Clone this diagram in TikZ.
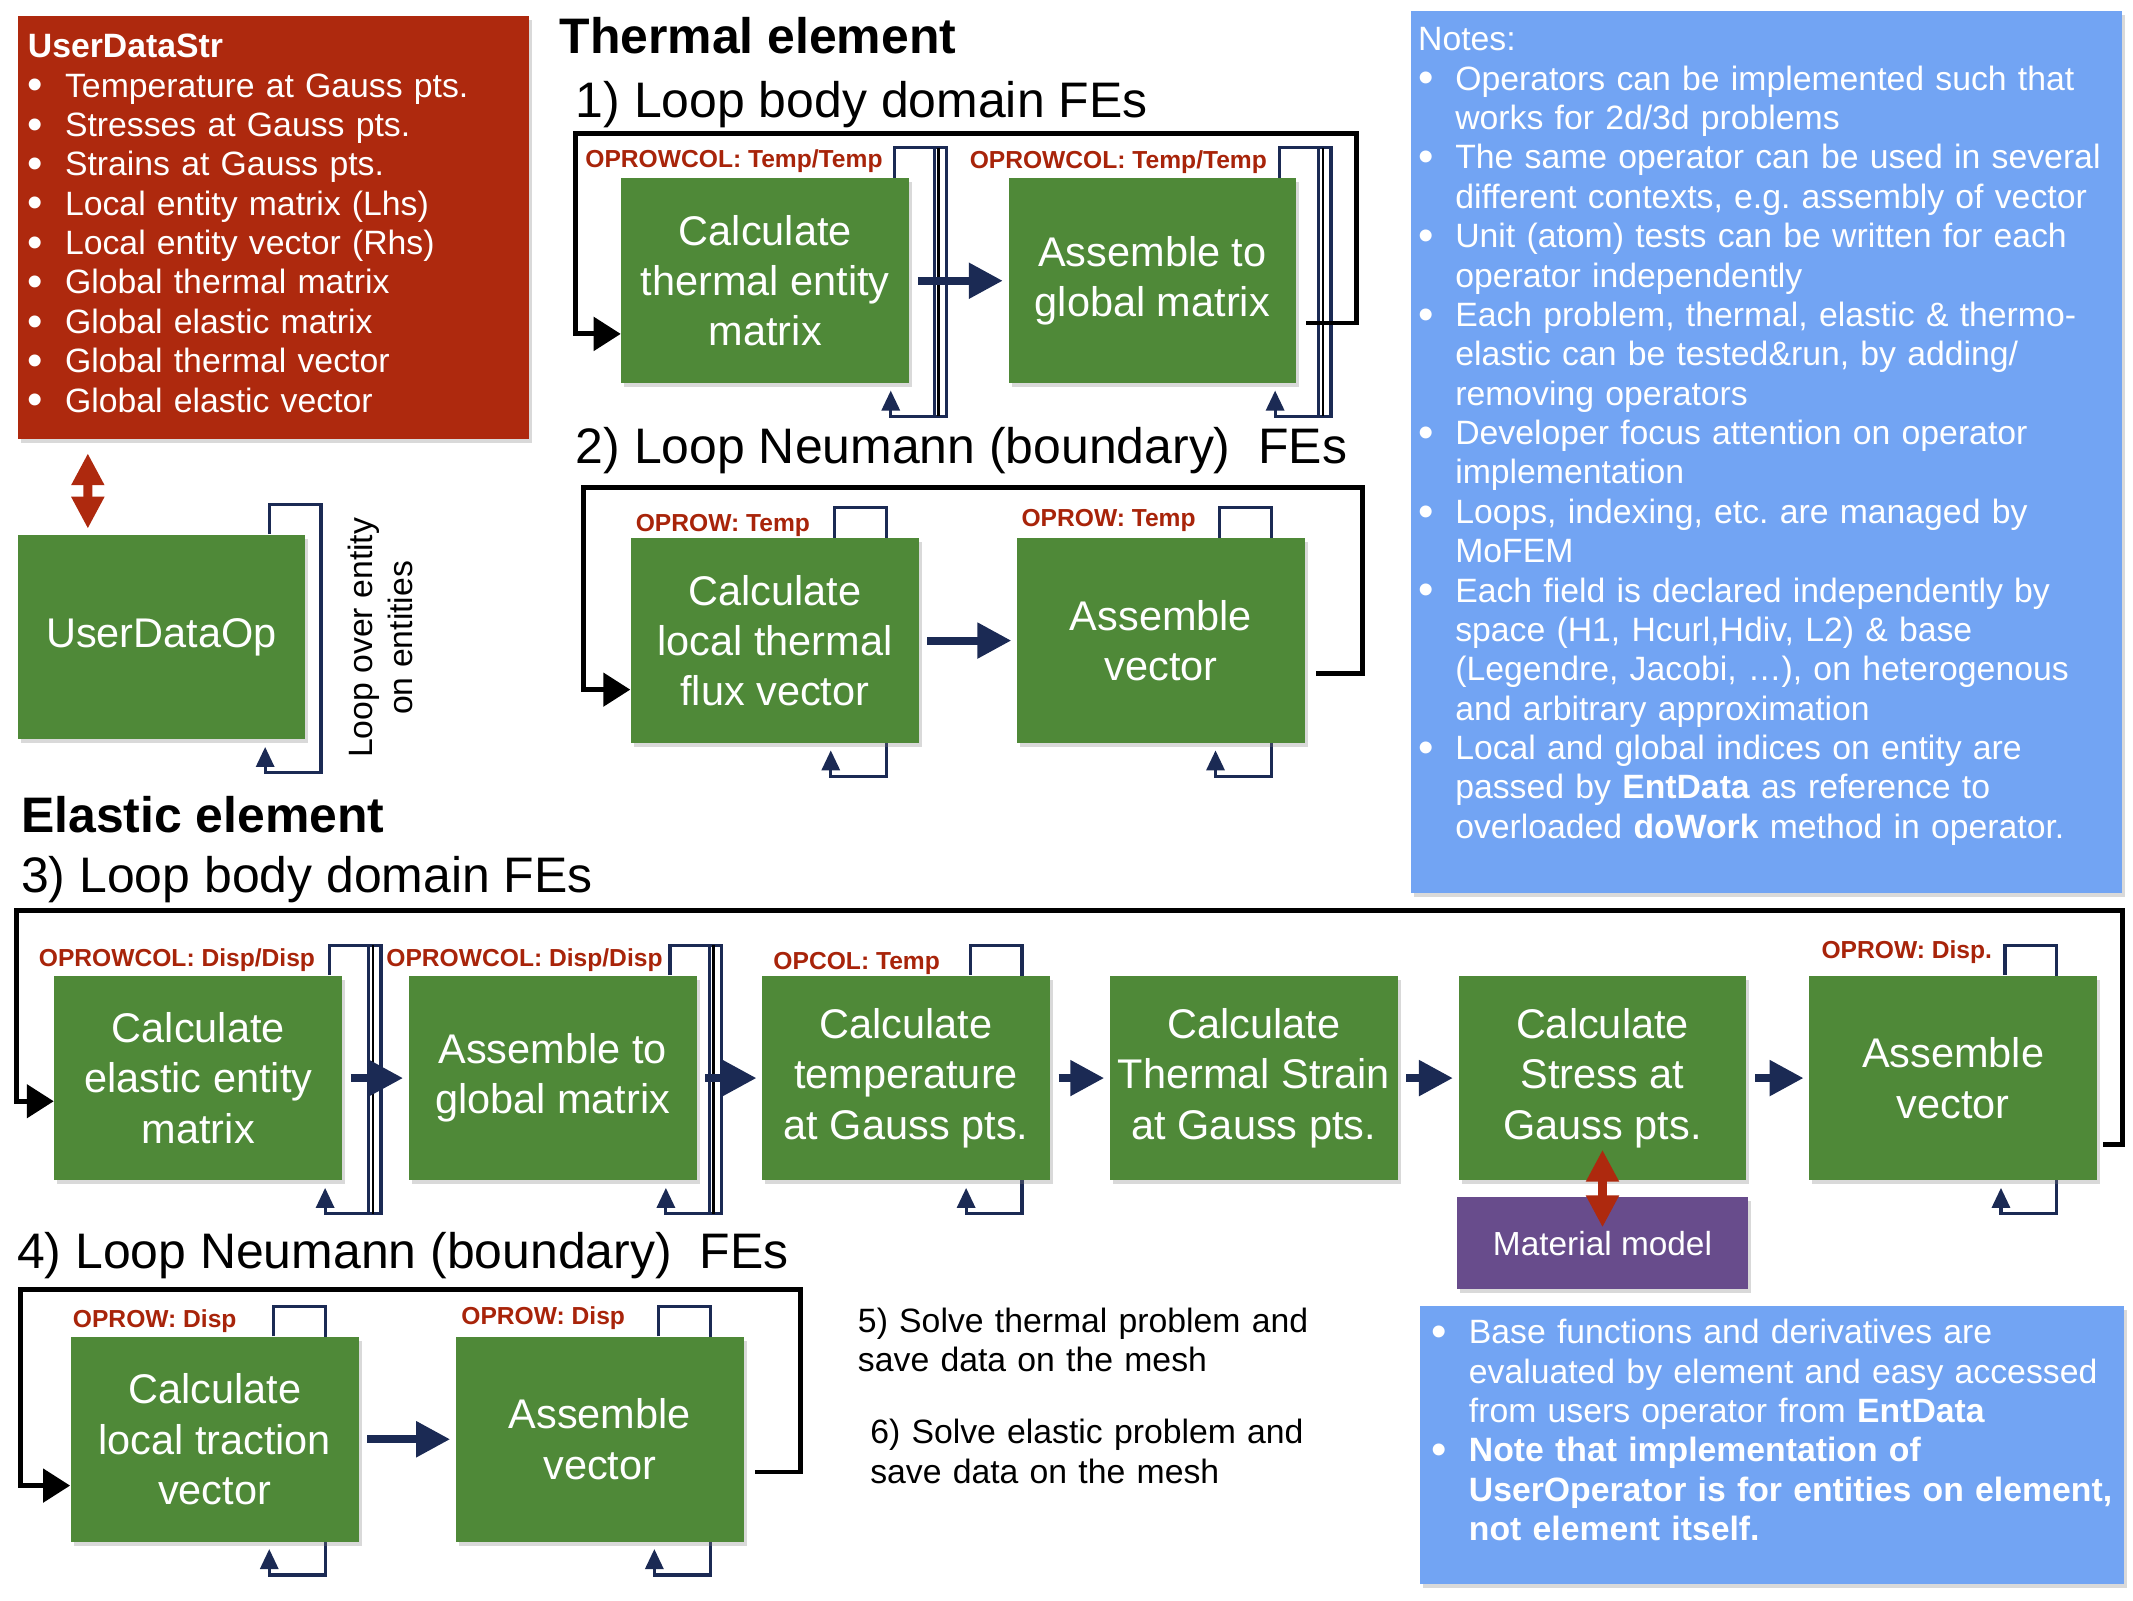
\documentclass[tikz,border=0pt]{standalone}
\usepackage{fontspec}
\setmainfont{Liberation Sans}
\usepackage{xcolor}
\usepackage{tikz}
\usetikzlibrary{shapes,arrows.meta,positioning,shadows,backgrounds}
\definecolor{opgreen}{RGB}{79,137,56}
\definecolor{datared}{RGB}{174,41,14}
\definecolor{labelred}{RGB}{168,36,10}
\definecolor{navy}{RGB}{27,42,84}
\definecolor{notesblue}{RGB}{114,164,243}
\definecolor{matpurple}{RGB}{104,76,140}
\frenchspacing

\newcommand{\bulletline}{\par\hangindent=1.1em\hangafter=1\noindent\makebox[1.1em][l]{\raisebox{-0.08em}{\fontsize{12.5}{12.5}\selectfont\textbullet}}\strut}
\newcommand{\oploop}[2]{\draw[selfloop] ([shift={(#2,0)}]#1.north east) -- ++(0,-22) -- ++(38,0) |- ([shift={(#2-3,24)}]#1.south east) -- ([shift={(#2-3,5)}]#1.south east);}
\newcommand{\oploopdouble}[2]{\oploop{#1}{#2}
  \draw[navy, line width=0.9pt] ([shift={(#2+29,-22)}]#1.north east) -- ([shift={(#2+29,24)}]#1.south east);
  \draw[black, line width=0.7pt] ([shift={(#2+32,-22)}]#1.north east) -- ([shift={(#2+32,24)}]#1.south east);}

\begin{document}
\begin{tikzpicture}[
      x=0.01363cm, y=-0.01363cm,
      shade/.style={drop shadow={shadow xshift=0.03cm, shadow yshift=-0.04cm, opacity=0.3, fill=black!50}},
      opbox/.style={shade, fill=opgreen, minimum width=2.876cm, minimum height=2.045cm, inner xsep=1pt, align=center, text=white, font=\fontsize{11.8}{14.3}\selectfont},
      oplabel/.style={font=\fontsize{7}{8}\selectfont\bfseries, text=labelred, inner sep=0, anchor=base west},
      heading/.style={font=\fontsize{14.2}{17}\selectfont\bfseries, inner sep=0, anchor=base west},
      loophead/.style={font=\fontsize{14.2}{17}\selectfont, inner sep=0, anchor=base west},
      listtext/.style={text width=7.5cm, align=left, inner sep=0, anchor=north west, font=\fontsize{9.6}{11.2}\selectfont},
      flow/.style={-{Triangle[length=0.34cm,width=0.34cm]}, line width=2.3pt, draw=navy, shorten <=0.08cm, shorten >=0.05cm},
      loopline/.style={-{Triangle[length=0.27cm,width=0.33cm]}, line width=1.4pt},
      selfloop/.style={-{Triangle[length=0.2cm,width=0.18cm]}, line width=0.9pt, draw=navy},
      dataarrow/.style={{Triangle[length=0.32cm,width=0.31cm]}-{Triangle[length=0.32cm,width=0.31cm]}, line width=2.6pt, draw=datared}
    ]
    \useasboundingbox (0,0) rectangle (1565,1174);

    % data and notes panels
    \node[shade, fill=datared, minimum width=5.111cm, minimum height=4.225cm] (userstr) at (200.5,167) {};
    \node[listtext, text=white] (userstrtext) at (20,21.6) {\strut\textbf{UserDataStr}
      \bulletline Temperature at Gauss pts.
      \bulletline Stresses at Gauss pts.
      \bulletline Strains at Gauss pts.
      \bulletline Local entity matrix (Lhs)
      \bulletline Local entity vector (Rhs)
      \bulletline Global thermal matrix
      \bulletline Global elastic matrix
      \bulletline Global thermal vector
      \bulletline Global elastic vector\par};

    \node[shade, fill=notesblue, minimum width=7.115cm, minimum height=8.819cm] (notes) at (1296,331.5) {};
    \node[listtext, text=white] (notestext) at (1040,16.6) {\strut Notes:
      \bulletline Operators can be implemented such that\newline works for 2d/3d problems
      \bulletline The same operator can be used in several\newline different contexts, e.g. assembly of vector
      \bulletline Unit (atom) tests can be written for each\newline operator independently
      \bulletline Each problem, thermal, elastic \& thermo-\newline elastic can be tested\&run, by adding/\newline removing operators
      \bulletline Developer focus attention on operator\newline implementation
      \bulletline Loops, indexing, etc. are managed by\newline MoFEM
      \bulletline Each field is declared independently by\newline space (H1, Hcurl,Hdiv, L2) \& base\newline (Legendre, Jacobi, …), on heterogenous\newline and arbitrary approximation
      \bulletline Local and global indices on entity are\newline passed by \textbf{EntData} as reference to\newline overloaded \textbf{doWork} method in operator.\par};

    \node[shade, fill=notesblue, minimum width=7.033cm, minimum height=2.78cm] (basenotes) at (1300,1060) {};
    \node[listtext, text=white] (basenotestext) at (1050,956.6) {\bulletline Base functions and derivatives are\newline evaluated by element and easy accessed\newline from users operator from \textbf{EntData}
      \bulletline \textbf{Note that implementation of\newline UserOperator is for entities on element,\newline not element itself.}\par};

    % headings
    \node[heading] (thermal) at (410,39) {Thermal element};
    \node[loophead] (loop1) at (422,86) {1) Loop body domain FEs};
    \node[loophead] (loop2) at (422,340) {2) Loop Neumann (boundary)~~FEs};
    \node[heading] (elastic) at (15,611) {Elastic element};
    \node[loophead] (loop3) at (15,655) {3) Loop body domain FEs};
    \node[loophead] (loop4) at (12,931) {4) Loop Neumann (boundary)~~FEs};

    % operators
    \node[opbox] (userop) at (118.5,467.5) {UserDataOp};
    \node[opbox] (t1) at (561.5,206) {Calculate\\thermal entity\\matrix};
    \node[opbox, right=0.98cm of t1] (t2) {Assemble to\\global matrix};
    \node[opbox] (t3) at (568.5,470) {Calculate\\local thermal\\flux vector};
    \node[opbox, right=0.97cm of t3] (t4) {Assemble\\vector};
    \node[opbox] (e1) at (145.5,791) {Calculate\\elastic entity\\matrix};
    \node[opbox, right=0.653cm of e1] (e2) {Assemble to\\global matrix};
    \node[opbox, right=0.643cm of e2] (e3) {Calculate\\temperature\\at Gauss pts.};
    \node[opbox, right=0.586cm of e3] (e4) {Calculate\\Thermal Strain\\at Gauss pts.};
    \node[opbox, right=0.596cm of e4] (e5) {Calculate\\Stress at\\Gauss pts.};
    \node[opbox, right=0.616cm of e5] (e6) {Assemble\\vector};
    \node[opbox, fill=matpurple, minimum width=2.9cm, minimum height=0.927cm, font=\fontsize{9.5}{11}\selectfont, below=0.15cm of e5] (mat) {Material model};
    \node[opbox] (n1) at (157.5,1056) {Calculate\\local traction\\vector};
    \node[opbox, right=0.96cm of n1] (n2) {Assemble\\vector};

    \node[oplabel] (t1op) at (429,123) {OPROWCOL: Temp/Temp};
    \node[oplabel] (t2op) at (711,124) {OPROWCOL: Temp/Temp};
    \node[oplabel] (t3op) at (466,390) {OPROW: Temp};
    \node[oplabel] (t4op) at (749,386) {OPROW: Temp};
    \node[oplabel] (e1op) at (28,709) {OPROWCOL: Disp/Disp};
    \node[oplabel] (e2op) at (283,709) {OPROWCOL: Disp/Disp};
    \node[oplabel] (e3op) at (567,711) {OPCOL: Temp};
    \node[oplabel] (e6op) at (1336,703) {OPROW: Disp.};
    \node[oplabel] (n1op) at (53,974) {OPROW: Disp};
    \node[oplabel] (n2op) at (338,972) {OPROW: Disp};

    \node[font=\fontsize{9.6}{11.2}\selectfont, rotate=90, align=center, inner sep=0] (entityloop) at (279,468) {Loop over entity\\on entities};
    \node[listtext] (solvet) at (629,956.6) {\strut 5) Solve thermal problem and\newline save data on the mesh};
    \node[listtext] (solvee) at (638,1038.6) {\strut 6) Solve elastic problem and\newline save data on the mesh};

    % loops over entities
    \begin{pgfonlayer}{background}
      \oploop{userop}{-27}
      \oploopdouble{t1}{-11}
      \oploopdouble{t2}{-13}
      \oploop{t3}{-62}
      \oploop{t4}{-63}
      \oploopdouble{e1}{-10}
      \oploopdouble{e2}{-20}
      \oploop{e3}{-59}
      \oploop{e6}{-68}
      \oploop{n1}{-63}
      \oploop{n2}{-63}
    \end{pgfonlayer}

    % loops over finite elements
    \coordinate (l1a) at (995,98);
    \coordinate (l1b) at (422,98);
    \coordinate (l2a) at (1000,358);
    \coordinate (l2b) at (428,358);
    \coordinate (l3a) at (1557,668);
    \coordinate (l3b) at (12,668);
    \coordinate (l4a) at (587,946);
    \coordinate (l4b) at (15,946);
    \draw[loopline] ([shift={(7,31)}]t2.east) -| (l1a) -- (l1b) |- ([shift={(0,39)}]t1.west);
    \draw[loopline] ([shift={(8,24)}]t4.east) -| (l2a) -- (l2b) |- ([shift={(0,36)}]t3.west);
    \draw[loopline] ([shift={(4,49)}]e6.east) -| (l3a) -- (l3b) |- ([shift={(0,17)}]e1.west);
    \draw[loopline] ([shift={(8,24)}]n2.east) -| (l4a) -- (l4b) |- ([shift={(0,34)}]n1.west);

    \draw[flow] (t1) -- (t2);
    \draw[flow] (t3) -- (t4);
    \draw[flow] (e1) -- (e2);
    \draw[flow] (e2) -- (e3);
    \draw[flow] (e3) -- (e4);
    \draw[flow] (e4) -- (e5);
    \draw[flow] (e5) -- (e6);
    \draw[flow] (n1) -- (n2);

    \draw[dataarrow] ([shift={(52,10)}]userstr.south west) -- ([shift={(52,-4)}]userop.north west);
    \draw[dataarrow] ([shift={(0,-23)}]e5.south) -- ([shift={(0,23)}]mat.north);

  \end{tikzpicture}
\end{document}
